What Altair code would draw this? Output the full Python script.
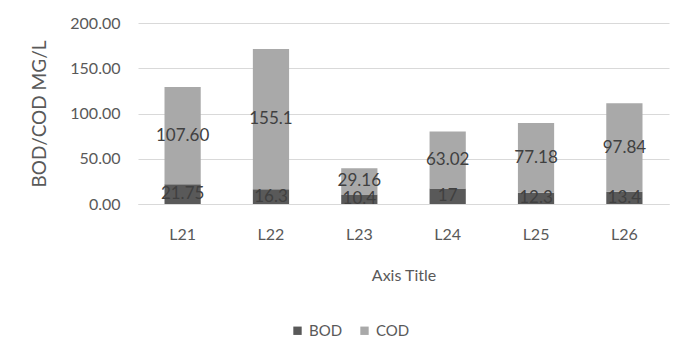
import altair as alt
import pandas as pd

sites = ["L21", "L22", "L23", "L24", "L25", "L26"]
bod = [21.75, 16.3, 10.4, 17, 12.3, 13.4]
cod = [107.60, 155.1, 29.16, 63.02, 77.18, 97.84]
bod_labels = ["21.75", "16.3", "10.4", "17", "12.3", "13.4"]
cod_labels = ["107.60", "155.1", "29.16", "63.02", "77.18", "97.84"]
series = ["BOD", "COD"]
colors = ["#595959", "#a9a9a9"]

rows = []
for i, s in enumerate(sites):
    rows.append({"site": s, "series": "BOD", "order": 0, "value": bod[i], "label": bod_labels[i]})
    rows.append({"site": s, "series": "COD", "order": 1, "value": cod[i], "label": cod_labels[i]})
df = pd.DataFrame(rows)

FONT = "Lato"
base = alt.Chart(df).transform_stack(
    stack="value", groupby=["site"], as_=["y0", "y1"],
    sort=[alt.SortField("order", order="ascending")]
).transform_calculate(mid="(datum.y0 + datum.y1) / 2")

x = alt.X("site:N", sort=sites, title="Axis Title",
          scale=alt.Scale(paddingInner=0.59, paddingOuter=0.3),
          axis=alt.Axis(labelAngle=0, labelPadding=22, titlePadding=25,
                        domainColor="#d9d9d9", ticks=False))

bars = base.mark_bar().encode(
    x=x,
    y=alt.Y("y0:Q", title="BOD/COD MG/L",
            scale=alt.Scale(domain=[0, 200]),
            axis=alt.Axis(values=[0, 50, 100, 150, 200], format=".2f",
                          labelPadding=18, titlePadding=20, titleFontSize=19,
                          domain=False, ticks=False, gridColor="#d9d9d9")),
    y2="y1:Q",
    color=alt.Color("series:N", scale=alt.Scale(domain=series, range=colors),
                    legend=alt.Legend(title=None, orient="none", direction="horizontal",
                                      legendX=152, legendY=300, symbolType="square",
                                      symbolSize=70, symbolStrokeWidth=0, columnPadding=14,
                                      labelFontSize=15, labelColor="#595959", labelFont=FONT)),
)

texts = base.mark_text(fontSize=17, color="#404040", font=FONT).encode(
    x=alt.X("site:N", sort=sites),
    y="mid:Q",
    text="label:N",
)

chart = alt.layer(bars, texts).properties(
    width=531, height=181,
    background="white",
    autosize=alt.AutoSizeParams(type="none"),
    padding={"left": 130, "top": 15, "right": 8, "bottom": 140},
).configure_view(stroke=None).configure_axis(
    labelFont=FONT, titleFont=FONT, labelFontSize=16, titleFontSize=16,
    labelColor="#595959", titleColor="#595959", titleFontWeight="normal",
)

chart.save("out.html", embed_options={"renderer": "svg", "actions": False})
